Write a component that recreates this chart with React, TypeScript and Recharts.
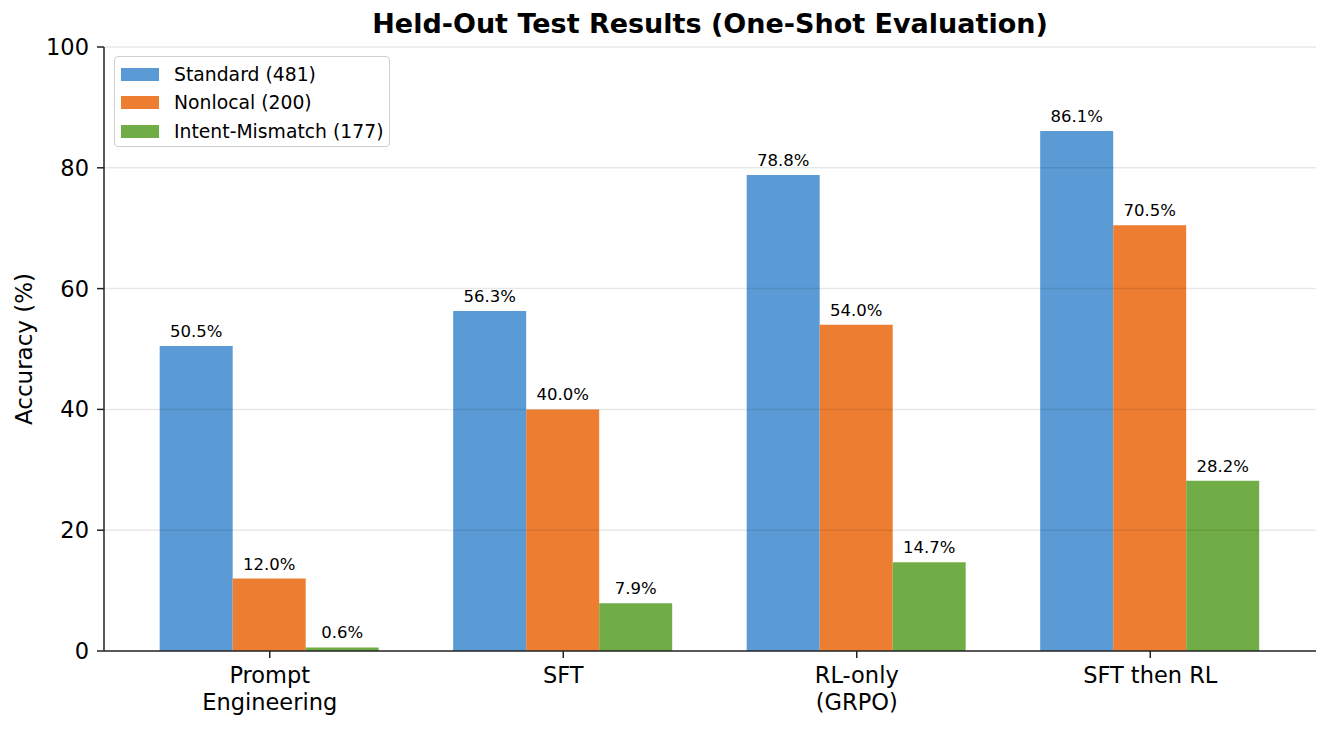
import { BarChart, Bar, XAxis, YAxis, Legend, LabelList, ReferenceLine } from "recharts";

// categories use \n for the two-line tick labels
const categories = ["Prompt\nEngineering", "SFT", "RL-only\n(GRPO)", "SFT then RL"];
const standard = [50.5, 56.3, 78.8, 86.1];
const nonlocal = [12.0, 40.0, 54.0, 70.5];
const intentMismatch = [0.6, 7.9, 14.7, 28.2];
const yTicks = [0, 20, 40, 60, 80, 100];

const seriesNames = ["Standard (481)", "Nonlocal (200)", "Intent-Mismatch (177)"];
const colors = ["#5B9BD5", "#ED7D31", "#70AD47"];

const FONT = "'DejaVu Sans', sans-serif";

const chartData = categories.map((name, i) => ({
  name,
  standard: standard[i],
  nonlocal: nonlocal[i],
  intent: intentMismatch[i],
}));

// multi-line category label under each group
function CategoryTick(props: any) {
  const { x, y, payload } = props;
  const lines = String(payload.value).split("\n");
  return (
    <text x={x} y={y} textAnchor="middle" fontSize={22.5} fill="#000" fontFamily={FONT}>
      {lines.map((line, i) => (
        <tspan key={i} x={x} dy={i === 0 ? 23 : 27}>
          {line}
        </tspan>
      ))}
    </text>
  );
}

function ValueLabel(props: any) {
  const { x, y, width, value } = props;
  return (
    <text
      x={Number(x) + Number(width) / 2}
      y={Number(y) - 9}
      textAnchor="middle"
      fontSize={16.5}
      fill="#000"
      fontFamily={FONT}
    >
      {Number(value).toFixed(1)}%
    </text>
  );
}

function LegendBox() {
  return (
    <div
      style={{
        border: "1px solid #d0d0d0",
        borderRadius: 4,
        background: "rgba(255,255,255,0.8)",
        width: 274,
        height: 86,
        boxSizing: "content-box",
        fontFamily: FONT,
        fontSize: 18.8,
        color: "#000",
        paddingTop: 3,
        whiteSpace: "nowrap",
      }}
    >
      {seriesNames.map((s, i) => (
        <div key={s} style={{ display: "flex", alignItems: "center", height: 28.5 }}>
          <span
            style={{
              display: "inline-block",
              width: 38,
              height: 13,
              marginLeft: 6,
              marginRight: 15,
              background: colors[i],
            }}
          />
          <span>{s}</span>
        </div>
      ))}
    </div>
  );
}

export default function App() {
  return (
    <div style={{ position: "relative", width: 1330, height: 730, background: "#fff" }}>
      <style>{"body{margin:0;}"}</style>
      <div
        style={{
          position: "absolute",
          left: 104,
          width: 1212,
          top: 8,
          textAlign: "center",
          fontFamily: FONT,
          fontWeight: "bold",
          fontSize: 27,
          color: "#000",
        }}
      >
        Held-Out Test Results (One-Shot Evaluation)
      </div>
      <BarChart
        width={1330}
        height={730}
        data={chartData}
        margin={{ top: 47, right: 14, bottom: 0, left: 0 }}
        barCategoryGap="12.5%"
        barGap={0}
      >
        <XAxis
          dataKey="name"
          height={79}
          padding={{ left: 19, right: 19 }}
          tickSize={7}
          tick={<CategoryTick />}
          interval={0}
          axisLine={{ stroke: "#222", strokeWidth: 1.5 }}
          tickLine={{ stroke: "#222", strokeWidth: 1.5 }}
        />
        <YAxis
          width={104}
          domain={[0, 100]}
          ticks={yTicks}
          tickSize={7}
          tickMargin={8}
          tick={{ fontSize: 22.5, fill: "#000", fontFamily: FONT }}
          axisLine={{ stroke: "#222", strokeWidth: 1.5 }}
          tickLine={{ stroke: "#222", strokeWidth: 1.5 }}
          label={{
            value: "Accuracy (%)",
            angle: -90,
            position: "insideLeft",
            offset: 0,
            dx: 24,
            style: { fontSize: 23, fill: "#000", fontFamily: FONT, textAnchor: "middle" },
          }}
        />
        <Legend
          layout="vertical"
          align="center"
          verticalAlign="middle"
          content={() => <LegendBox />}
          wrapperStyle={{ position: "absolute", left: 114, top: 56, width: 280, height: 95 }}
        />
        <Bar dataKey="standard" name={seriesNames[0]} fill={colors[0]} isAnimationActive={false}>
          <LabelList dataKey="standard" content={<ValueLabel />} />
        </Bar>
        <Bar dataKey="nonlocal" name={seriesNames[1]} fill={colors[1]} isAnimationActive={false}>
          <LabelList dataKey="nonlocal" content={<ValueLabel />} />
        </Bar>
        <Bar dataKey="intent" name={seriesNames[2]} fill={colors[2]} isAnimationActive={false}>
          <LabelList dataKey="intent" content={<ValueLabel />} />
        </Bar>
        {yTicks.slice(1).map((t) => (
          <ReferenceLine key={t} y={t} stroke="#000" strokeOpacity={0.09} strokeWidth={1.5} />
        ))}
      </BarChart>
    </div>
  );
}
